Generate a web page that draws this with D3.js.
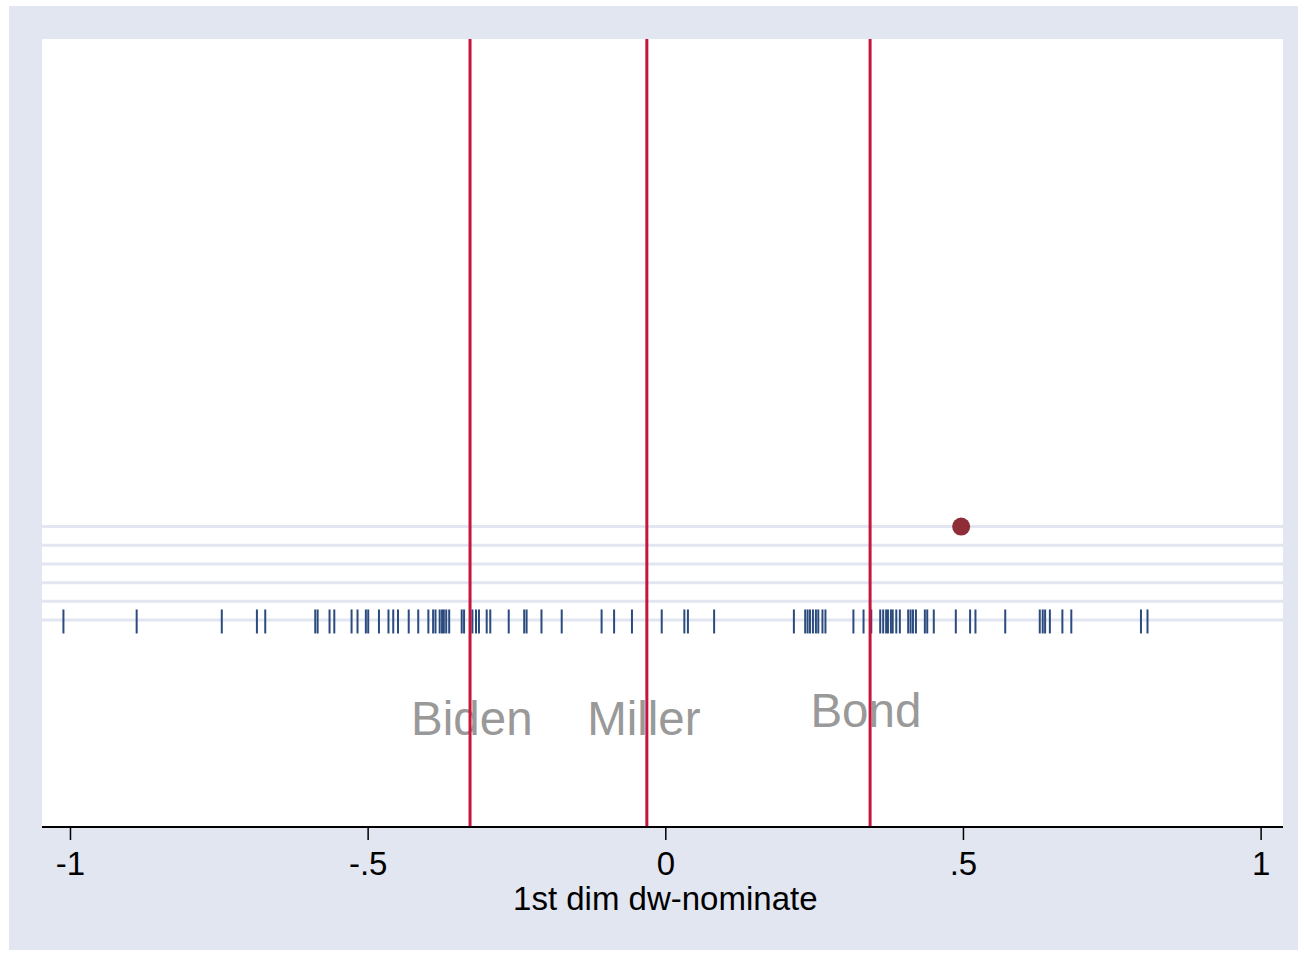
<!DOCTYPE html>
<html>
<head>
<meta charset="utf-8">
<script src="https://cdn.jsdelivr.net/npm/d3@7"></script>
<style>
  body { margin: 0; background: #ffffff; }
  svg { display: block; font-family: "Liberation Sans", Arial, sans-serif; }
</style>
</head>
<body>
<div id="chart"></div>
<script>
const width = 1304;
const height = 953;

// senators' 1st dimension dw-nominate scores (rug)
var scores = [
  -1.011, -0.888, -0.745, -0.686, -0.672, -0.588, -0.584, -0.564, -0.556,
  -0.527, -0.517, -0.503, -0.499, -0.481, -0.465, -0.457, -0.449, -0.431,
  -0.415, -0.398, -0.390, -0.386, -0.379, -0.375, -0.372, -0.368, -0.363,
  -0.342, -0.338, -0.328, -0.324, -0.318, -0.313, -0.300, -0.294, -0.263,
  -0.237, -0.233, -0.208, -0.174, -0.107, -0.086, -0.056, -0.006, 0.032,
  0.038, 0.082,
  0.216, 0.235, 0.239, 0.243, 0.248, 0.253, 0.257, 0.264, 0.269, 0.316,
  0.333, 0.346, 0.361, 0.366, 0.371, 0.374, 0.379, 0.382, 0.388, 0.394,
  0.408, 0.412, 0.416, 0.421, 0.436, 0.440, 0.451, 0.488, 0.512, 0.521,
  0.571, 0.629, 0.634, 0.638, 0.646, 0.667, 0.682, 0.799, 0.810
];

// reference lines and their labels
var refNames = ['Biden', 'Miller', 'Bond'];
var refLines = [-0.328, -0.031, 0.344];
var labelX = [-0.325, -0.036, 0.337];
var labelY = [-5.25, -5.25, -4.85];

// highlighted point
var pointX = [0.497];
var pointY = [5];

var gridY = [0, 1, 2, 3, 4, 5];
var xTicks = [-1, -0.5, 0, 0.5, 1];
var xTickLabels = ['-1', '-.5', '0', '.5', '1'];
var xTitle = '1st dim dw-nominate';

var color_bg = '#e1e6f0';
var color_grid = '#e1e6f0';
var color_rug = '#2b4a7e';
var color_ref = '#c8143c';
var color_dot = '#8e2c37';
var color_label = '#999999';

const plot = {left: 42, right: 1283, top: 39, bottom: 827};

var svg = d3.select('#chart').append('svg')
  .attr('width', width)
  .attr('height', height);

// graph region
svg.append('rect')
  .attr('x', 9).attr('y', 6)
  .attr('width', 1289).attr('height', 944)
  .attr('fill', color_bg);

svg.append('rect')
  .attr('x', plot.left).attr('y', plot.top)
  .attr('width', plot.right - plot.left).attr('height', plot.bottom - plot.top)
  .attr('fill', '#ffffff');

const x = d3.scaleLinear()
  .domain([-1.047, 1.0376])
  .range([plot.left, plot.right]);

const y = d3.scaleLinear()
  .domain([-11.09, 31.12])
  .range([plot.bottom, plot.top]);

// grid lines
svg.append('g').selectAll('line')
  .data(gridY)
  .enter().append('line')
  .attr('x1', plot.left).attr('x2', plot.right)
  .attr('y1', d => y(d)).attr('y2', d => y(d))
  .attr('stroke', color_grid)
  .attr('stroke-width', 3);

// rug
svg.append('g').selectAll('line')
  .data(scores)
  .enter().append('line')
  .attr('x1', d => x(d)).attr('x2', d => x(d))
  .attr('y1', y(0) - 10.5).attr('y2', y(0) + 13.5)
  .attr('stroke', color_rug)
  .attr('stroke-width', 2);

// point
svg.append('g').selectAll('circle')
  .data(pointX)
  .enter().append('circle')
  .attr('cx', d => x(d))
  .attr('cy', (d, i) => y(pointY[i]))
  .attr('r', 9)
  .attr('fill', color_dot);

// labels
svg.append('g').selectAll('text')
  .data(refNames)
  .enter().append('text')
  .attr('x', (d, i) => x(labelX[i]))
  .attr('y', (d, i) => y(labelY[i]))
  .attr('dy', '0.35em')
  .attr('text-anchor', 'middle')
  .attr('font-size', 47.5)
  .attr('fill', color_label)
  .text(d => d);

// reference lines
svg.append('g').selectAll('line')
  .data(refLines)
  .enter().append('line')
  .attr('x1', d => x(d)).attr('x2', d => x(d))
  .attr('y1', plot.top).attr('y2', plot.bottom)
  .attr('stroke', color_ref)
  .attr('stroke-width', 3);

// x axis
var xAxis = d3.axisBottom(x)
  .tickValues(xTicks)
  .tickFormat((d, i) => xTickLabels[i])
  .tickSize(13)
  .tickPadding(12)
  .tickSizeOuter(0);

var ax = svg.append('g')
  .attr('transform', 'translate(0,' + plot.bottom + ')')
  .call(xAxis);

ax.select('.domain')
  .attr('d', 'M' + plot.left + ',0H' + plot.right)
  .attr('stroke', '#000')
  .attr('stroke-width', 2);
ax.selectAll('.tick line').attr('stroke', '#000').attr('stroke-width', 1.5);
ax.selectAll('.tick text')
  .attr('font-family', '"Liberation Sans", Arial, sans-serif')
  .attr('font-size', 33)
  .attr('fill', '#000');

svg.append('text')
  .attr('x', x(0))
  .attr('y', 910)
  .attr('text-anchor', 'middle')
  .attr('font-size', 33)
  .attr('fill', '#000')
  .text(xTitle);
</script>
</body>
</html>
